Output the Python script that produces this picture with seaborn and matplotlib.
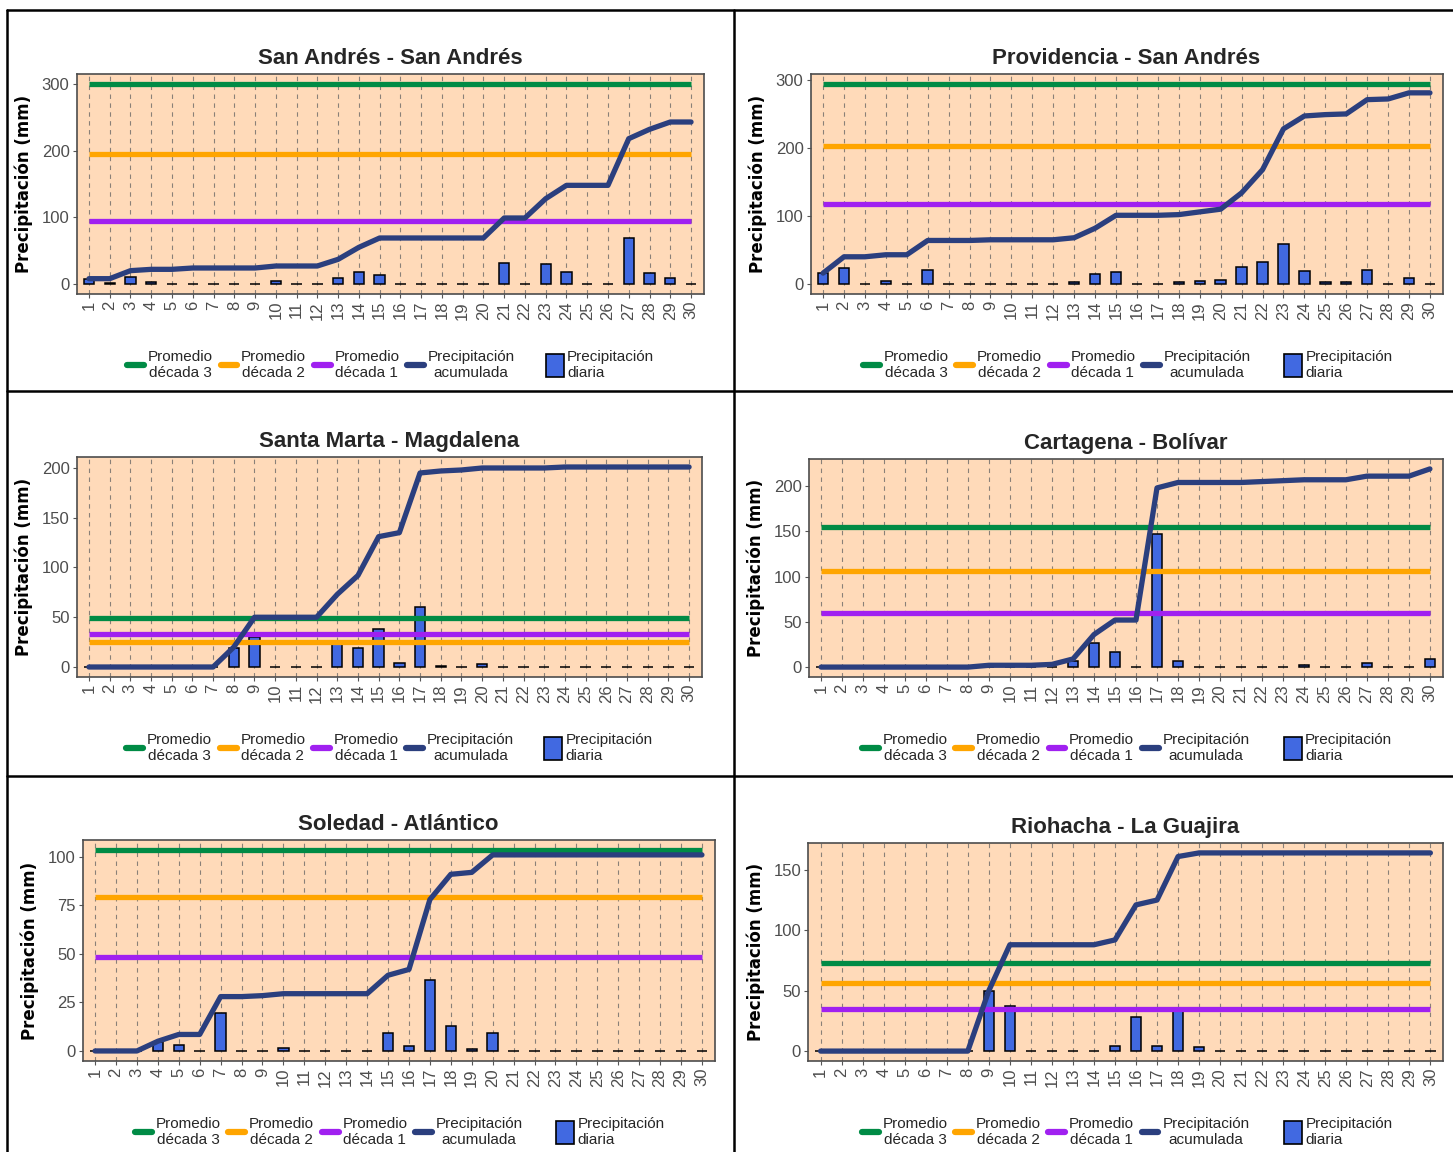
import numpy as np
import pandas as pd
import seaborn as sns
import matplotlib.pyplot as plt
from matplotlib.lines import Line2D
from matplotlib.patches import Patch
from matplotlib.ticker import MultipleLocator

# Daily values (mm)
days = list(range(1, 31))

stations = ['San Andrés - San Andrés', 'Providencia - San Andrés',
            'Santa Marta - Magdalena', 'Cartagena - Bolívar',
            'Soledad - Atlántico', 'Riohacha - La Guajira']

daily_sanandres = [7.5, 1, 11, 2.5, 0, 0, 0, 0, 0, 5, 0, 0, 9.5, 18.5, 13,
                   0, 0, 0, 0, 0, 31, 0, 29.5, 18.5, 0, 0, 69, 17, 9.5, 0]
cum_sanandres = [8, 8, 20, 22, 22, 24, 24, 24, 24, 27, 27, 27, 37, 55, 69,
                 69, 69, 69, 69, 69, 99, 99, 128, 148, 148, 148, 218, 232, 243, 243]

daily_providencia = [15.5, 23, 0, 4.5, 0, 21, 0, 0, 0, 0, 0, 0, 3, 14, 18,
                     0, 0, 3, 4.5, 6, 24.5, 33, 59, 19, 2.5, 2.5, 21, 0, 9.5, 0]
cum_providencia = [16, 40, 40, 43, 43, 64, 64, 64, 65, 65, 65, 65, 68, 82, 101,
                   101, 101, 102, 106, 110, 134, 168, 228, 247, 249, 250, 271, 272, 281, 281]

daily_santamarta = [0, 0, 0, 0, 0, 0, 0, 19.5, 30.5, 0, 0, 0, 23.5, 19.5, 38.5,
                    4.5, 60, 1.5, 0, 3, 0, 0, 0, 0, 0, 0, 0, 0, 0, 0]
cum_santamarta = [0, 0, 0, 0, 0, 0, 0, 20, 50, 50, 50, 50, 73, 92, 131,
                  135, 195, 197, 198, 200, 200, 200, 200, 201, 201, 201, 201, 201, 201, 201]

daily_cartagena = [0, 0, 0, 0, 0, 0, 0, 0, 0, 0, 0, 0, 6.5, 26.5, 16.5,
                   0, 147, 6.5, 0, 0, 0, 0, 0, 1.8, 0, 0, 4.5, 0, 0, 8.5]
cum_cartagena = [0, 0, 0, 0, 0, 0, 0, 0, 2, 2, 2, 3, 9, 36, 52,
                 52, 198, 204, 204, 204, 204, 205, 206, 207, 207, 207, 211, 211, 211, 219]

daily_soledad = [0, 0, 0, 4.8, 3.3, 0, 19.5, 0, 0, 1.6, 0, 0, 0, 0, 9.2,
                 2.6, 36.5, 13, 0.9, 9.2, 0, 0, 0, 0, 0, 0, 0, 0, 0, 0]
cum_soledad = [0, 0, 0, 5, 8.5, 8.5, 28, 28, 28.5, 29.5, 29.5, 29.5, 29.5, 29.5, 39,
               42, 78, 91, 92, 101, 101, 101, 101, 101, 101, 101, 101, 101, 101, 101]

daily_riohacha = [0, 0, 0, 0, 0, 0, 0, 0, 49.5, 37.5, 0, 0, 0, 0, 4.4,
                  28.5, 4.4, 35, 3.6, 0, 0, 0, 0, 0, 0, 0, 0, 0, 0, 0]
cum_riohacha = [0, 0, 0, 0, 0, 0, 0, 0, 50, 88, 88, 88, 88, 88, 92,
                121, 125, 161, 164, 164, 164, 164, 164, 164, 164, 164, 164, 164, 164, 164]

daily_all = [daily_sanandres, daily_providencia, daily_santamarta,
             daily_cartagena, daily_soledad, daily_riohacha]
cum_all = [cum_sanandres, cum_providencia, cum_santamarta,
           cum_cartagena, cum_soledad, cum_riohacha]

avg_dec3 = [300, 294, 49, 155, 103.5, 73]
avg_dec2 = [195, 203, 25, 106, 79.5, 56.5]
avg_dec1 = [94, 118, 33, 59.5, 48.5, 34.5]

ytick_step = [100, 100, 50, 50, 25, 50]

# colours
c_dec3 = '#008B45'
c_dec2 = '#FFA500'
c_dec1 = '#A020F0'
c_cum = '#2B3F7E'
c_bar = '#4169E1'
c_bg = '#FFDAB9'

sns.set_theme(style='white')
plt.rcParams['font.family'] = ['Liberation Sans', 'DejaVu Sans']
txt_font = ['Liberation Sans', 'DejaVu Sans']

W, H = 1453, 1152
fig = plt.figure(figsize=(W / 100, H / 100), dpi=100)

# axes boxes in pixels: left, right, top, bottom
boxes = [(76.5, 703.5, 74, 294), (810.5, 1442.5, 74, 294),
         (76.5, 701.5, 457, 677), (808.5, 1442.5, 459, 677),
         (82.5, 714.5, 840, 1061), (808, 1443, 843, 1061)]

for i, name in enumerate(stations):
    l, r, t, b = boxes[i]
    ax = fig.add_axes([l / W, 1 - b / H, (r - l) / W, (b - t) / H])
    ax.set_facecolor(c_bg)

    df = pd.DataFrame({'dia': days, 'diaria': daily_all[i], 'acum': cum_all[i]})
    sns.barplot(data=df, x='dia', y='diaria', native_scale=True, width=0.5,
                color=c_bar, saturation=1, edgecolor='black', linewidth=1.1,
                errorbar=None, ax=ax, zorder=2)
    ax.hlines(avg_dec3[i], days[0], days[-1], color=c_dec3, lw=3.8, zorder=3)
    ax.hlines(avg_dec2[i], days[0], days[-1], color=c_dec2, lw=3.8, zorder=3)
    ax.hlines(avg_dec1[i], days[0], days[-1], color=c_dec1, lw=3.8, zorder=3)
    sns.lineplot(data=df, x='dia', y='acum', color=c_cum, lw=3.8, ax=ax, zorder=4)

    top = max(max(cum_all[i]), max(daily_all[i]), avg_dec3[i], avg_dec2[i], avg_dec1[i])
    ax.set_ylim(-0.05 * top, 1.05 * top)
    ax.yaxis.set_major_locator(MultipleLocator(ytick_step[i]))
    ax.set_xlim(0.4, 30.6)
    ax.set_xticks(days)
    ax.set_xticklabels([str(d) for d in days], rotation=90, fontsize=12,
                       color='#4D4D4D')
    for lab in ax.get_yticklabels():
        lab.set_fontsize(12)
        lab.set_color('#4D4D4D')
    ax.tick_params(axis='both', which='both', length=3, width=0.8,
                   color='#555555', bottom=True, left=True, pad=2)
    ax.grid(axis='x', linestyle=(0, (4, 4)), color='#8A8078', lw=0.8)
    ax.grid(axis='y', visible=False)
    ax.set_axisbelow(True)
    for sp in ax.spines.values():
        sp.set_color('#4D4D4D')
        sp.set_linewidth(1.2)
    ax.set_xlabel('')
    ax.set_ylabel('Precipitación (mm)', family='DejaVu Sans', fontweight='bold',
                  fontsize=12, color='black', labelpad=6)
    ax.set_title(name, fontsize=16, fontweight='bold', pad=7)

    # legends below the plot
    ah = b - t
    leg_y = -71 / ah
    line_handles = [Line2D([], [], color=c_dec3, lw=4.5),
                    Line2D([], [], color=c_dec2, lw=4.5),
                    Line2D([], [], color=c_dec1, lw=4.5),
                    Line2D([], [], color=c_cum, lw=4.5)]
    line_labels = ['Promedio\ndécada 3', 'Promedio\ndécada 2',
                   'Promedio\ndécada 1', 'Precipitación\nacumulada']
    leg1 = ax.legend(line_handles, line_labels, loc='center',
                     bbox_to_anchor=(0.39, leg_y), ncol=4, frameon=False,
                     handlelength=1.1, handletextpad=0.25, columnspacing=0.5,
                     prop={'family': txt_font, 'size': 11})
    for txt in leg1.get_texts():
        txt.set_multialignment('center')
    ax.add_artist(leg1)
    leg2 = ax.legend([Patch(facecolor=c_bar, edgecolor='black', lw=1.2)],
                     ['Precipitación\ndiaria'], loc='center',
                     bbox_to_anchor=(0.835, leg_y), frameon=False,
                     handlelength=1.2, handleheight=2.0, handletextpad=0.2,
                     prop={'family': txt_font, 'size': 11})

# table-like frame lines
frame = dict(color='black', lw=1.8, transform=fig.transFigure)
fig.add_artist(Line2D([7 / W, 7 / W], [0, 1 - 10 / H], **frame))
fig.add_artist(Line2D([734 / W, 734 / W], [0, 1 - 10 / H], **frame))
fig.add_artist(Line2D([7 / W, 1], [1 - 10 / H, 1 - 10 / H], **frame))
fig.add_artist(Line2D([7 / W, 1], [1 - 391 / H, 1 - 391 / H], **frame))
fig.add_artist(Line2D([7 / W, 1], [1 - 776 / H, 1 - 776 / H], **frame))

fig.savefig('out.png', dpi=100, facecolor='white')
